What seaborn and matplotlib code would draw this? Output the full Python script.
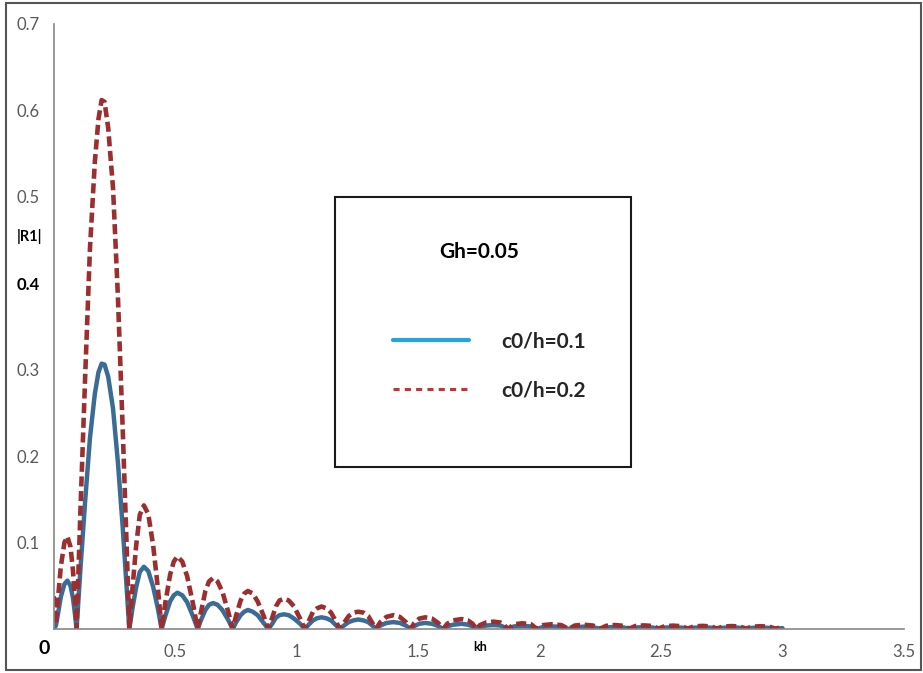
import matplotlib
matplotlib.use("Agg")
import matplotlib.pyplot as plt
from matplotlib.patches import Rectangle
from matplotlib.lines import Line2D
import seaborn as sns

# ---------------- data ----------------
kh = [
    0.0, 0.01, 0.02, 0.03, 0.045, 0.057, 0.07, 0.08, 0.088, 0.095,
    0.11, 0.13, 0.15, 0.17, 0.185, 0.198, 0.21, 0.225, 0.245, 0.265, 0.285, 0.30, 0.312,
    0.325, 0.34, 0.355, 0.372, 0.39, 0.41, 0.43, 0.445,
    0.46, 0.48, 0.495, 0.51, 0.53, 0.55, 0.575, 0.593,
    0.608, 0.625, 0.64, 0.657, 0.675, 0.695, 0.72, 0.737,
    0.752, 0.77, 0.785, 0.80, 0.82, 0.84, 0.865, 0.884,
    0.90, 0.915, 0.93, 0.948, 0.968, 0.99, 1.015, 1.034,
    1.05, 1.068, 1.085, 1.103, 1.122, 1.142, 1.162, 1.178,
    1.195, 1.215, 1.235, 1.254, 1.275, 1.295, 1.312, 1.327,
    1.345, 1.37, 1.398, 1.425, 1.45, 1.47,
    1.485, 1.505, 1.53, 1.558, 1.583, 1.604,
    1.62, 1.645, 1.68, 1.705, 1.725, 1.74,
    1.755, 1.78, 1.81, 1.84, 1.855, 1.87,
    1.895, 1.93, 1.965, 1.99,
    2.015, 2.05, 2.09, 2.12,
    2.145, 2.18, 2.22, 2.25,
    2.275, 2.31, 2.345, 2.37,
    2.395, 2.43, 2.465, 2.49,
    2.515, 2.55, 2.585, 2.61,
    2.635, 2.67, 2.705, 2.73,
    2.755, 2.79, 2.825, 2.85,
    2.875, 2.91, 2.945, 2.97,
    3.0,
]

r1_c0h_01 = [
    0.0, 0.004, 0.020, 0.037, 0.052, 0.056, 0.050, 0.036, 0.018, 0.0,
    0.066, 0.147, 0.221, 0.272, 0.297, 0.307, 0.306, 0.292, 0.255, 0.193, 0.117, 0.052, 0.0,
    0.024, 0.048, 0.066, 0.072, 0.067, 0.049, 0.023, 0.0,
    0.015, 0.032, 0.039, 0.042, 0.039, 0.031, 0.014, 0.0,
    0.011, 0.022, 0.028, 0.030, 0.028, 0.022, 0.010, 0.0,
    0.008, 0.016, 0.020, 0.022, 0.020, 0.016, 0.007, 0.0,
    0.006, 0.013, 0.016, 0.017, 0.016, 0.012, 0.006, 0.0,
    0.005, 0.010, 0.0125, 0.0135, 0.0125, 0.010, 0.0045, 0.0,
    0.004, 0.008, 0.010, 0.011, 0.010, 0.008, 0.004, 0.0,
    0.004, 0.007, 0.008, 0.007, 0.004, 0.0,
    0.0035, 0.006, 0.007, 0.006, 0.0035, 0.0,
    0.003, 0.005, 0.006, 0.005, 0.003, 0.0,
    0.002, 0.004, 0.0045, 0.004, 0.002, 0.0,
    0.003, 0.0035, 0.003, 0.0,
    0.0025, 0.003, 0.0025, 0.0,
    0.002, 0.0027, 0.002, 0.0003,
    0.0018, 0.0024, 0.0018, 0.0003,
    0.0017, 0.0022, 0.0017, 0.0003,
    0.0016, 0.002, 0.0016, 0.0003,
    0.0015, 0.0019, 0.0015, 0.0003,
    0.0014, 0.0018, 0.0014, 0.0003,
    0.0013, 0.0017, 0.0013, 0.0003,
    0.001,
]

r1_c0h_02 = [
    0.038, 0.006, 0.040, 0.072, 0.100, 0.107, 0.095, 0.068, 0.035, 0.0,
    0.13, 0.29, 0.44, 0.54, 0.59, 0.612, 0.61, 0.58, 0.51, 0.385, 0.23, 0.105, 0.0,
    0.047, 0.096, 0.132, 0.143, 0.133, 0.097, 0.046, 0.0,
    0.030, 0.063, 0.078, 0.084, 0.078, 0.061, 0.028, 0.0,
    0.021, 0.044, 0.055, 0.059, 0.055, 0.043, 0.019, 0.0,
    0.016, 0.033, 0.041, 0.044, 0.041, 0.032, 0.015, 0.0,
    0.013, 0.026, 0.033, 0.035, 0.033, 0.026, 0.012, 0.0,
    0.009, 0.020, 0.024, 0.026, 0.024, 0.019, 0.009, 0.0,
    0.007, 0.015, 0.019, 0.020, 0.019, 0.015, 0.007, 0.0,
    0.008, 0.014, 0.016, 0.014, 0.008, 0.0,
    0.007, 0.012, 0.0135, 0.012, 0.007, 0.0,
    0.006, 0.010, 0.0115, 0.010, 0.006, 0.0,
    0.0045, 0.0075, 0.0085, 0.0075, 0.0045, 0.0,
    0.0055, 0.0066, 0.0055, 0.0,
    0.0045, 0.0055, 0.0045, 0.0,
    0.004, 0.005, 0.004, 0.0005,
    0.0037, 0.0046, 0.0037, 0.0005,
    0.0035, 0.0042, 0.0035, 0.0005,
    0.0032, 0.0039, 0.0032, 0.0005,
    0.003, 0.0036, 0.003, 0.0005,
    0.0028, 0.0034, 0.0028, 0.0005,
    0.0027, 0.0032, 0.0027, 0.0005,
    0.002,
]

series_labels = ["c0/h=0.1", "c0/h=0.2"]
legend_title = "Gh=0.05"
x_ticks = [0.5, 1.0, 1.5, 2.0, 2.5, 3.0, 3.5]
x_tick_labels = ["0.5", "1", "1.5", "2", "2.5", "3", "3.5"]
y_ticks = [0.1, 0.2, 0.3, 0.4, 0.5, 0.6, 0.7]
y_tick_labels = ["0.1", "0.2", "0.3", "0.4", "0.5", "0.6", "0.7"]

# ---------------- style ----------------
sns.set_style("white")
plt.rcParams["font.family"] = ["Lato", "DejaVu Sans"]

W, H = 923, 673
fig = plt.figure(figsize=(W / 100, H / 100), dpi=100)
fig.patch.set_facecolor("white")

def fx(px):
    return px / W

def fy(py):
    return 1 - py / H

ax_l, ax_r, ax_t, ax_b = 53.5, 904, 24, 629
ax = fig.add_axes([fx(ax_l), fy(ax_b), fx(ax_r - ax_l), (ax_b - ax_t) / H])

SOLID_C = "#3a6c96"
DASH_C = "#9c2e30"

sns.lineplot(x=kh, y=r1_c0h_01, ax=ax, estimator=None, sort=False,
             color=SOLID_C, linewidth=3.2)
sns.lineplot(x=kh, y=r1_c0h_02, ax=ax, estimator=None, sort=False,
             color=DASH_C, linewidth=3.3)
ax.lines[-1].set_dashes((2.2, 1.0))

ax.set_xlim(0, 3.5)
ax.set_ylim(0, 0.7)

GRAY = "#878787"
LBL = "#595959"
for s in ["top", "right"]:
    ax.spines[s].set_visible(False)
for s in ["left", "bottom"]:
    ax.spines[s].set_color(GRAY)
    ax.spines[s].set_linewidth(1.2)

ax.set_xticks(x_ticks)
ax.set_xticklabels(x_tick_labels)
ax.set_yticks(y_ticks)
ax.set_yticklabels(y_tick_labels)
ax.tick_params(axis="both", which="major", direction="out", length=4,
               width=1.0, color=GRAY, labelcolor=LBL, labelsize=12)
ax.tick_params(axis="x", pad=7)
ax.tick_params(axis="y", pad=6)
ax.set_xlabel("")
ax.set_ylabel("")

# bold "0.4" tick label
for t in ax.get_yticklabels():
    if t.get_text() == "0.4":
        t.set_fontweight("bold")
        t.set_color("black")

# extra axis texts
fig.text(fx(30), fy(236), "|R1|", fontsize=10.5, fontweight="bold",
         color="black", ha="center", va="center")
fig.text(fx(44), fy(648), "0", fontsize=14, fontweight="bold",
         color="black", ha="center", va="center")
fig.text(fx(480), fy(647), "kh", fontsize=9, fontweight="bold",
         color="black", ha="center", va="center")

# legend box
fig.patches.append(Rectangle((fx(335), fy(467)), fx(631 - 335), (467 - 197) / H,
                             transform=fig.transFigure, fill=False,
                             edgecolor="#1a1a1a", linewidth=1.5))
fig.text(fx(479), fy(252), legend_title, fontsize=15, fontweight="bold",
         color="black", ha="center", va="center")

handles = [
    Line2D([0], [0], color="#27a2da", linewidth=3.0),
    Line2D([0], [0], color="#c4323c", linewidth=2.2, dashes=(2.0, 1.7)),
]
leg = fig.legend(handles, series_labels, loc="upper left",
                 bbox_to_anchor=(fx(393), fy(331)), bbox_transform=fig.transFigure,
                 frameon=False, borderpad=0, borderaxespad=0,
                 handlelength=3.65, handletextpad=1.55, labelspacing=1.4,
                 prop={"family": ["Lato", "DejaVu Sans"], "size": 15, "weight": "bold"})

# outer border of the picture
fig.patches.append(Rectangle((fx(6), fy(670)), fx(921 - 6), (670 - 3) / H,
                             transform=fig.transFigure, fill=False,
                             edgecolor="#555555", linewidth=1.5))

fig.savefig("out.png", dpi=100)
